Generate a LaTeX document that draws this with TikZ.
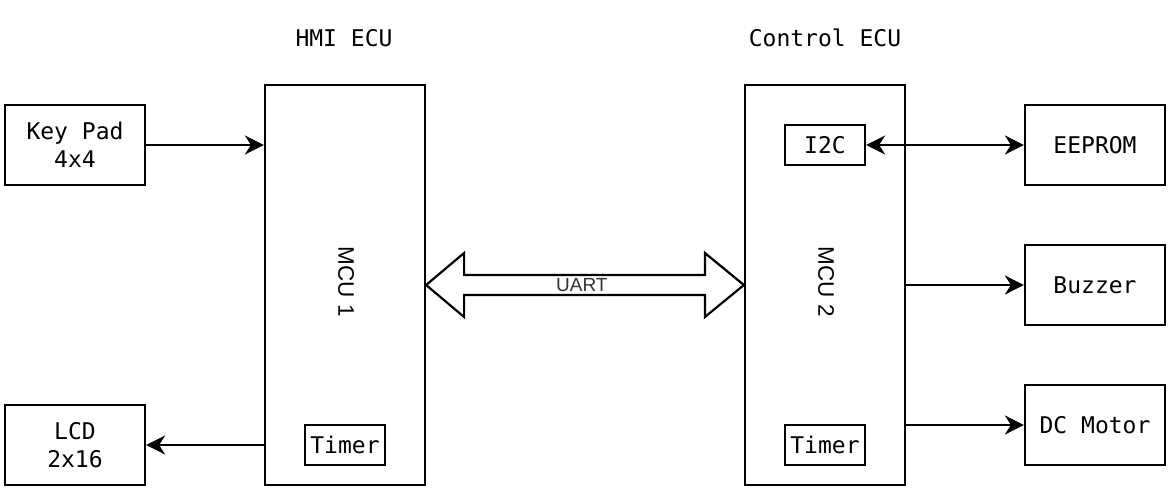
\documentclass[tikz,border=0pt]{standalone}
\usepackage{fontspec}
\usetikzlibrary{arrows.meta,calc}
\newfontfamily\monofnt{DejaVu Sans Mono}
\newfontfamily\sansfnt{Liberation Sans}
\begin{document}
\begin{tikzpicture}[x=1pt,y=-1pt,
  box/.style={draw,line width=2.2pt,inner sep=0pt,minimum width=140pt,minimum height=80pt,
    font=\monofnt\fontsize{23}{28}\selectfont,align=center},
  mcu/.style={draw,line width=2.2pt,inner sep=0pt,minimum width=160pt,minimum height=400pt},
  small/.style={draw,line width=2.2pt,inner sep=0pt,minimum width=80pt,minimum height=40pt,
    font=\monofnt\fontsize{23}{27}\selectfont},
  title/.style={font=\monofnt\fontsize{23}{26}\selectfont,inner sep=0pt},
  mculabel/.style={font=\sansfnt\fontsize{22.5}{24}\selectfont,rotate=-90,inner sep=0pt},
  conn/.style={line width=2.2pt,-{Stealth[length=19pt,width=19pt,inset=6pt]}},
  biconn/.style={line width=2.2pt,{Stealth[length=19pt,width=19pt,inset=6pt]}-{Stealth[length=19pt,width=19pt,inset=6pt]}},
  uart/.style={draw,line width=2.2pt,line join=miter}
]
\useasboundingbox[fill=white] (0,0) rectangle (1170,492);

\node[title] (hmi) at (344,38) {HMI ECU};
\node[title] (ctrl) at (825,38) {Control ECU};

\node[box] (keypad) at (75,145) {Key Pad\\4x4};
\node[box] (lcd) at (75,445) {LCD\\2x16};
\node[mcu] (mcu1) at (345,285) {};
\node[mcu] (mcu2) at (825,285) {};
\node[mculabel] (l1) at (346,282) {MCU 1};
\node[mculabel] (l2) at (826,282) {MCU 2};
\node[small] (timer1) at (345,445) {Timer};
\node[small] (timer2) at (825,445) {Timer};
\node[small] (i2c) at (825,145) {I2C};
\node[box] (eeprom) at (1095,145) {EEPROM};
\node[box] (buzzer) at (1095,285) {Buzzer};
\node[box] (motor) at (1095,425) {DC Motor};

\draw[conn] (keypad.east) -- (keypad.east -| mcu1.west);
\draw[conn] (lcd.east -| mcu1.west) -- (lcd.east);
\draw[biconn] (i2c.east) -- (eeprom.west);
\draw[conn] (buzzer.west -| mcu2.east) -- (buzzer.west);
\draw[conn] (motor.west -| mcu2.east) -- (motor.west);

\draw[uart] (mcu1.east) -- ($(mcu1.east)+(38,-32)$) -- ($(mcu1.east)+(38,-10)$)
  -- ($(mcu2.west)+(-39,-10)$) -- ($(mcu2.west)+(-39,-32)$) -- (mcu2.west)
  -- ($(mcu2.west)+(-39,32)$) -- ($(mcu2.west)+(-39,10)$)
  -- ($(mcu1.east)+(38,10)$) -- ($(mcu1.east)+(38,32)$) -- cycle;
\node[fill=white,inner sep=1pt,font=\sansfnt\fontsize{19}{21}\selectfont,text=black!80] (uartlbl)
  at ($(mcu1.east)!0.49!(mcu2.west)$) {UART};
\end{tikzpicture}
\end{document}
